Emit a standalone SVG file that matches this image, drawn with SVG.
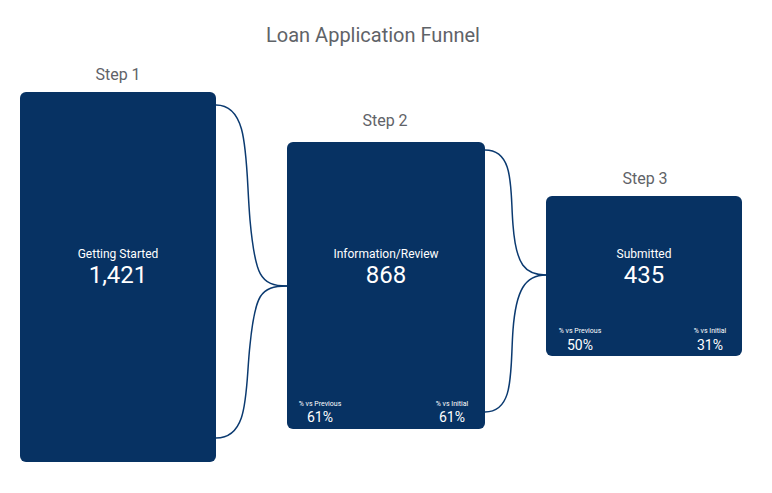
<svg xmlns="http://www.w3.org/2000/svg" width="772" height="493" viewBox="0 0 772 493">
<style>
.box{fill:#073263}
.t{font-family:Roboto,"Liberation Sans",sans-serif;fill:#fff;text-anchor:middle}
.h{font-family:Roboto,"Liberation Sans",sans-serif;fill:#5f6368;text-anchor:middle}
.c{fill:none;stroke:#0b3a70;stroke-width:1.5}
</style>
<rect width="772" height="493" fill="#fff"/>
<text class="h" x="373" y="42" font-size="20">Loan Application Funnel</text>
<g id="connectors">
<path class="c" d="M216,105 C250,105 245,160 250,220 C255,275 260,286 287,286"/>
<path class="c" d="M216,438 C250,438 245,390 250,345 C255,295 260,286 287,286"/>
<path class="c" d="M485,150 C515,150 510,190 513,225 C516,265 525,275 546,275"/>
<path class="c" d="M485,412 C515,412 510,370 513,330 C516,290 525,275 546,275"/>
</g>
<g id="step1">
<text class="h" x="118" y="80" font-size="16">Step 1</text>
<rect class="box" x="20" y="92" width="196" height="370" rx="6"/>
<text class="t" x="118" y="258" font-size="12">Getting Started</text>
<text class="t" x="118" y="283" font-size="24">1,421</text>
</g>
<g id="step2">
<text class="h" x="385" y="126" font-size="16">Step 2</text>
<rect class="box" x="287" y="142" width="198" height="287" rx="6"/>
<text class="t" x="386" y="258" font-size="12">Information/Review</text>
<text class="t" x="386" y="283" font-size="24">868</text>
<text class="t" x="320" y="406" font-size="7">% vs Previous</text>
<text class="t" x="320" y="422" font-size="14">61%</text>
<text class="t" x="452" y="406" font-size="7">% vs Initial</text>
<text class="t" x="452" y="422" font-size="14">61%</text>
</g>
<g id="step3">
<text class="h" x="645" y="184" font-size="16">Step 3</text>
<rect class="box" x="546" y="196" width="196" height="160" rx="6"/>
<text class="t" x="644" y="258" font-size="12">Submitted</text>
<text class="t" x="644" y="283" font-size="24">435</text>
<text class="t" x="580" y="333" font-size="7">% vs Previous</text>
<text class="t" x="580" y="350" font-size="14">50%</text>
<text class="t" x="710" y="333" font-size="7">% vs Initial</text>
<text class="t" x="710" y="350" font-size="14">31%</text>
</g>
</svg>
